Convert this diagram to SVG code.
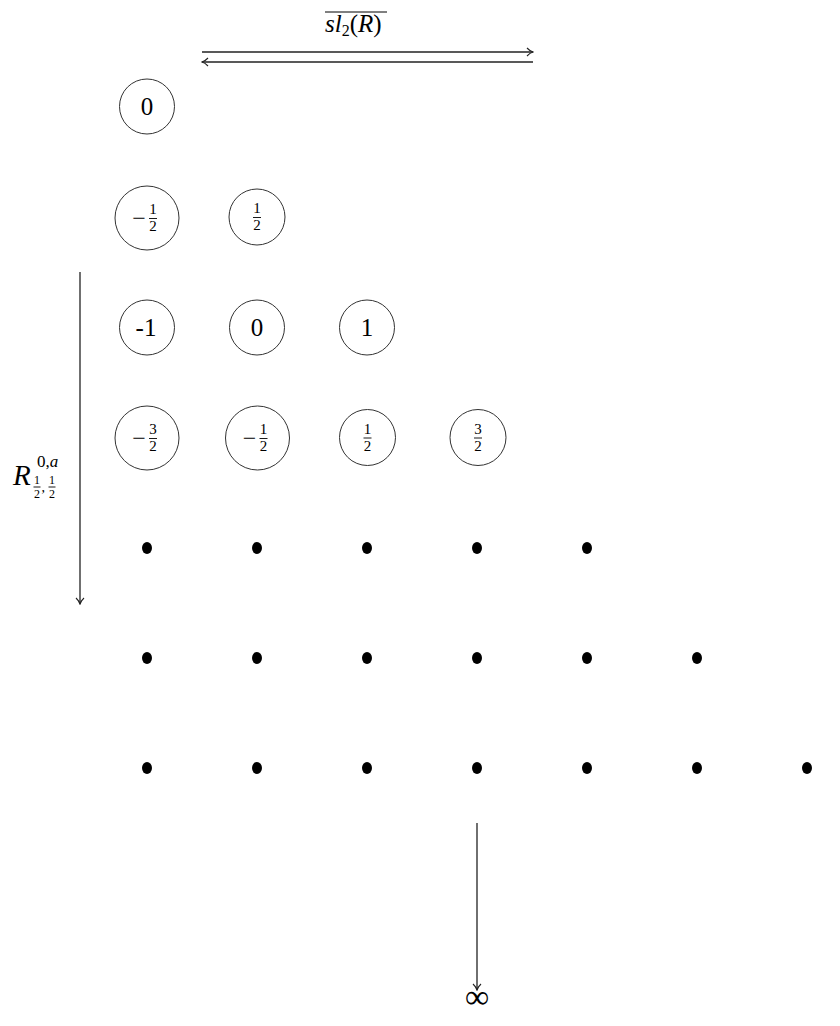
<svg xmlns="http://www.w3.org/2000/svg" width="840" height="1026" viewBox="0 0 840 1026">
<style>
.c{fill:none;stroke:#333;stroke-width:1}
.n{font-size:25px;text-anchor:middle}
.f{font-size:15px;text-anchor:middle}
.m{font-size:24px;text-anchor:middle}
.bar{stroke:#000;stroke-width:0.9}
.e{stroke:#222;stroke-width:1.3;fill:none}
.d{fill:#000}
</style>
<defs>
<marker id="ah" viewBox="0 0 10 10" refX="9" refY="5" markerWidth="10" markerHeight="10" markerUnits="userSpaceOnUse" orient="auto">
<path d="M3,1 Q6,4.2 9,5 Q6,5.8 3,9" fill="none" stroke="#222" stroke-width="1.1"/>
</marker>
</defs>
<g id="connectors">
<line class="e" x1="202" y1="52" x2="533" y2="52" marker-end="url(#ah)"/>
<line class="e" x1="533" y1="62" x2="202" y2="62" marker-end="url(#ah)"/>
<line class="e" x1="80" y1="272" x2="80" y2="604" marker-end="url(#ah)"/>
<line class="e" x1="477" y1="823" x2="477" y2="990" marker-end="url(#ah)"/>
</g>
<g font-family="'Liberation Serif', 'DejaVu Serif', serif" fill="#000">
<g id="label-sl2">
<line x1="325" y1="12" x2="387" y2="12" stroke="#000" stroke-width="1"/>
<text x="325" y="32" font-size="25"><tspan font-style="italic">sl</tspan><tspan font-size="16" dy="4">2</tspan><tspan dy="-4">(</tspan><tspan font-style="italic">R</tspan>)</text>
</g>
<g id="label-R">
<text x="13" y="485" font-size="29" font-style="italic">R</text>
<text x="37" y="467" font-size="17">0,<tspan font-style="italic">a</tspan></text>
<text x="37" y="484" font-size="12" text-anchor="middle">1</text>
<line class="bar" x1="33.5" y1="487" x2="40.5" y2="487"/>
<text x="37" y="498" font-size="12" text-anchor="middle">2</text>
<text x="41.5" y="492" font-size="14">,</text>
<text x="52" y="484" font-size="12" text-anchor="middle">1</text>
<line class="bar" x1="48.5" y1="487" x2="55.5" y2="487"/>
<text x="52" y="498" font-size="12" text-anchor="middle">2</text>
</g>
<g id="label-inf">
<text x="477" y="1008" font-size="34" text-anchor="middle">∞</text>
</g>
<g id="n-r1-0"><circle class="c" cx="147" cy="106.5" r="27.5"/><text class="n" x="147" y="115">0</text></g>
<g id="n-r2-m12"><circle class="c" cx="147" cy="218" r="32"/><text class="m" x="139" y="226">−</text><text class="f" x="153" y="214">1</text><line class="bar" x1="149" y1="218.5" x2="157" y2="218.5"/><text class="f" x="153" y="231">2</text></g>
<g id="n-r2-12"><circle class="c" cx="257" cy="217" r="28"/><text class="f" x="257" y="213">1</text><line class="bar" x1="253" y1="217.5" x2="261" y2="217.5"/><text class="f" x="257" y="230">2</text></g>
<g id="n-r3-m1"><circle class="c" cx="147" cy="327.5" r="27.5"/><text class="n" x="146" y="336">-1</text></g>
<g id="n-r3-0"><circle class="c" cx="257" cy="327.5" r="27.5"/><text class="n" x="257" y="336">0</text></g>
<g id="n-r3-1"><circle class="c" cx="367" cy="327.5" r="27.5"/><text class="n" x="367" y="336">1</text></g>
<g id="n-r4-m32"><circle class="c" cx="147" cy="438" r="32"/><text class="m" x="139" y="446">−</text><text class="f" x="153" y="434">3</text><line class="bar" x1="149" y1="438.5" x2="157" y2="438.5"/><text class="f" x="153" y="451">2</text></g>
<g id="n-r4-m12"><circle class="c" cx="257.5" cy="438" r="32"/><text class="m" x="249.5" y="446">−</text><text class="f" x="263.5" y="434">1</text><line class="bar" x1="259.5" y1="438.5" x2="267.5" y2="438.5"/><text class="f" x="263.5" y="451">2</text></g>
<g id="n-r4-12"><circle class="c" cx="367.5" cy="437.5" r="28"/><text class="f" x="367.5" y="433.5">1</text><line class="bar" x1="363.5" y1="438" x2="371.5" y2="438"/><text class="f" x="367.5" y="450.5">2</text></g>
<g id="n-r4-32"><circle class="c" cx="478" cy="437.5" r="28"/><text class="f" x="478" y="433.5">3</text><line class="bar" x1="474" y1="438" x2="482" y2="438"/><text class="f" x="478" y="450.5">2</text></g>
</g>
<g id="dots-r5">
<ellipse class="d" cx="147" cy="548" rx="5" ry="6"/><ellipse class="d" cx="257" cy="548" rx="5" ry="6"/><ellipse class="d" cx="367" cy="548" rx="5" ry="6"/><ellipse class="d" cx="477" cy="548" rx="5" ry="6"/><ellipse class="d" cx="587" cy="548" rx="5" ry="6"/>
</g>
<g id="dots-r6">
<ellipse class="d" cx="147" cy="658" rx="5" ry="6"/><ellipse class="d" cx="257" cy="658" rx="5" ry="6"/><ellipse class="d" cx="367" cy="658" rx="5" ry="6"/><ellipse class="d" cx="477" cy="658" rx="5" ry="6"/><ellipse class="d" cx="587" cy="658" rx="5" ry="6"/><ellipse class="d" cx="697" cy="658" rx="5" ry="6"/>
</g>
<g id="dots-r7">
<ellipse class="d" cx="147" cy="768" rx="5" ry="6"/><ellipse class="d" cx="257" cy="768" rx="5" ry="6"/><ellipse class="d" cx="367" cy="768" rx="5" ry="6"/><ellipse class="d" cx="477" cy="768" rx="5" ry="6"/><ellipse class="d" cx="587" cy="768" rx="5" ry="6"/><ellipse class="d" cx="697" cy="768" rx="5" ry="6"/><ellipse class="d" cx="807" cy="768" rx="5" ry="6"/>
</g>
</svg>
